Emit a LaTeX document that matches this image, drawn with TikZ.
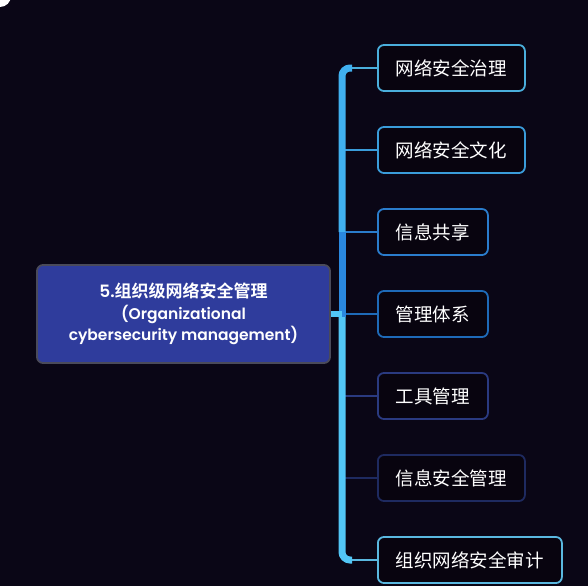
\documentclass[tikz,border=0pt]{standalone}
\usepackage{fontspec}
\newfontfamily\cjk{Noto Sans CJK SC}
\newfontfamily\cjkb{Noto Sans CJK SC Bold}
\newfontfamily\pop{Poppins SemiBold}
\definecolor{bg}{HTML}{0A0616}
\definecolor{boxfill}{HTML}{08040F}
\definecolor{cfill}{HTML}{2F3C9C}
\definecolor{cborder}{HTML}{4A4A5A}
\definecolor{bA}{HTML}{4AAEDC}
\definecolor{bB}{HTML}{3A9CDA}
\definecolor{bC}{HTML}{2A7CCC}
\definecolor{bD}{HTML}{1E6AB8}
\definecolor{bE}{HTML}{2A3A80}
\definecolor{bF}{HTML}{1E2A60}
\definecolor{bG}{HTML}{5AB8E0}
\definecolor{trunkA}{HTML}{40B0F0}
\definecolor{trunkB}{HTML}{2A88E0}
\definecolor{trunkC}{HTML}{52C6F6}
\begin{document}
\begin{tikzpicture}[x=1pt,y=-1pt,
  leaf/.style={draw=#1, line width=1.8pt, rounded corners=6pt, fill=boxfill,
    anchor=west, minimum height=46pt, inner xsep=18pt, inner ysep=0pt,
    text=white, font=\cjk\fontsize{18.5}{20}\selectfont},
  twig/.style={draw=#1, line width=2pt},
  center/.style={draw=cborder, line width=1.8pt, rounded corners=6pt, fill=cfill,
    minimum width=293pt, minimum height=98pt, text=white, align=center,
    font=\fontsize{15.5}{21.5}\selectfont}]
\useasboundingbox (0,0) rectangle (588,586);
\fill[bg] (0,0) rectangle (588,586);
\begin{scope}
\clip (0,0) rectangle (588,586);
\fill[white] (0,-4) circle (11);
\end{scope}
% central node
\node[center] (c) at (183.5,314) {{\fontsize{17}{21.5}\selectfont\pop 5.\cjkb 组织级网络安全管理}\\{\pop (Organizational}\\{\pop cybersecurity management)}};
% leaves
\node[leaf=bA] (n1) at (377,68) {网络安全治理};
\node[leaf=bB] (n2) at (377,150) {网络安全文化};
\node[leaf=bC] (n3) at (377,232) {信息共享};
\node[leaf=bD] (n4) at (377,314) {管理体系};
\node[leaf=bE] (n5) at (377,396) {工具管理};
\node[leaf=bF] (n6) at (377,478) {信息安全管理};
\node[leaf=bG] (n7) at (377,560) {组织网络安全审计};
% junction coordinates on trunk
\coordinate (j1) at (342,68);
\coordinate (j2) at (342,150);
\coordinate (j3) at (342,232);
\coordinate (j4) at (342,314);
\coordinate (j5) at (342,396);
\coordinate (j6) at (342,478);
\coordinate (j7) at (342,560);
% twigs
\draw[twig=bB] (j2) -- (n2.west);
\draw[twig=bC] (j3) -- (n3.west);
\draw[twig=bD] (j4) -- (n4.west);
\draw[twig=bE] (j5) -- (n5.west);
\draw[twig=bF] (j6) -- (n6.west);
\draw[twig=bA] ([xshift=8pt]j1) -- (n1.west);
\draw[twig=bG] ([xshift=8pt]j7) -- (n7.west);
% trunk
\draw[trunkA, line width=7pt, rounded corners=8pt] ([xshift=10pt]j1) -- (j1) -- (j3);
\draw[trunkB, line width=7pt] (j3) -- ([yshift=-3pt]j4);
\draw[trunkC, line width=7pt, rounded corners=8pt] ([yshift=-3pt]j4) -- (j7) -- ([xshift=10pt]j7);
% stub from centre
\draw[trunkC, line width=6pt] (c.east) -- (j4);
\end{tikzpicture}
\end{document}
